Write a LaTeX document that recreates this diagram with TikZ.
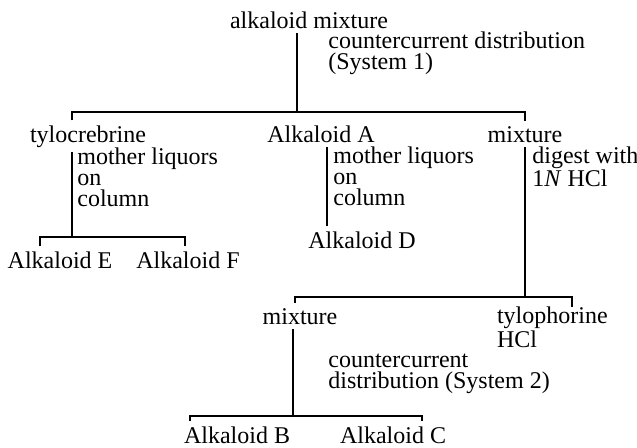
\documentclass[tikz,border=0pt]{standalone}
\usepackage{fontspec}
\setmainfont{Liberation Serif}
\usetikzlibrary{calc}

\begin{document}
\begin{tikzpicture}[
  x=0.5pt,y=-0.5pt,
  font=\fontsize{12}{10.5}\selectfont,
  item/.style={inner sep=0pt,outer sep=2.5pt,anchor=base},
  note/.style={inner sep=0pt,anchor=north west,align=left},
  link/.style={line width=0.8pt}
]
\useasboundingbox (0,0) rectangle (637,447);
\node[item] (mix) at (309,28) {alkaloid mixture};
\node[note] (ccd1) at (328,31) {countercurrent distribution\\(System 1)};
\node[item] (tylo) at (88,142) {tylocrebrine};
\node[item] (alkA) at (321,142) {Alkaloid A};
\node[item] (mixR) at (525,142) {mixture};
\node[note] (mlq1) at (77,147) {mother liquors\\on\\column};
\node[note] (mlq2) at (333,146) {mother liquors\\on\\column};
\node[note] (dig) at (532,146) {digest with\\1\textit{N} HCl};
\node[item] (alkE) at (60,268) {Alkaloid E};
\node[item] (alkF) at (188,268) {Alkaloid F};
\node[item] (alkD) at (362,248) {Alkaloid D};
\node[item] (mixL) at (300,324) {mixture};
\node[note,outer sep=0pt] (tph) at (497,307) {tylophorine\\HCl};
\node[note] (ccd2) at (328,354) {countercurrent\\distribution (System 2)};
\node[item] (alkB) at (237,443) {Alkaloid B};
\node[item] (alkC) at (393,443) {Alkaloid C};

\coordinate (j0) at (297,112);
\coordinate (b1l) at (72,112);
\coordinate (b1r) at (525,112);
\coordinate (j1) at (72,237);
\coordinate (b2l) at (40,237);
\coordinate (b2r) at (185,237);
\coordinate (j2) at (327,227);
\coordinate (j3) at (525,297);
\coordinate (b3l) at (295,297);
\coordinate (b3r) at (572,297);
\coordinate (j4) at (293,416);
\coordinate (b4l) at (190,416);
\coordinate (b4r) at (422,416);

\draw[link] (j0 |- mix.south) -- (j0);
\draw[link] (b1l |- tylo.north) -- (b1l) -- (b1r) -- (b1r |- mixR.north);
\draw[link] (j1 |- tylo.south) -- (j1);
\draw[link] (b2l |- alkE.north) -- (b2l) -- (b2r) -- (b2r |- alkF.north);
\draw[link] (j2 |- alkA.south) -- (j2 |- alkD.north);
\draw[link] (j3 |- mixR.south) -- (j3);
\draw[link] (b3l |- mixL.north) -- (b3l) -- (b3r) -- (b3r |- tph.north);
\draw[link] (j4 |- mixL.south) -- (j4);
\draw[link] (b4l |- alkB.north) -- (b4l) -- (b4r) -- (b4r |- alkC.north);
\end{tikzpicture}
\end{document}
